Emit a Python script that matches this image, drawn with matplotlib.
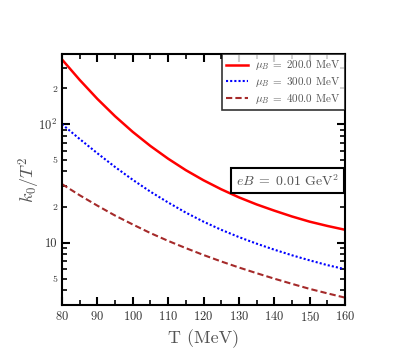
import matplotlib
matplotlib.use("Agg")
import matplotlib.pyplot as plt
from matplotlib.ticker import LogLocator, FixedLocator, FixedFormatter, MultipleLocator, FuncFormatter

plt.rcParams['font.family'] = 'serif'
plt.rcParams['font.serif'] = ['cmr10', 'DejaVu Serif']
plt.rcParams['mathtext.fontset'] = 'cm'
plt.rcParams['axes.formatter.use_mathtext'] = True

T = [80, 85, 90, 95, 100, 105, 110, 115, 120, 125, 130, 135, 140, 145, 150, 155, 160]
k_mu200 = [350.8, 236.0, 163.3, 116.7, 86.1, 65.5, 51.2, 41.0, 33.7, 28.3, 24.2, 21.1, 18.7, 16.7, 15.1, 13.9, 12.9]
k_mu300 = [100, 75.0, 56.9, 43.6, 34.0, 27.0, 21.9, 18.0, 15.1, 12.9, 11.2, 9.86, 8.77, 7.87, 7.13, 6.50, 6.01]
k_mu400 = [31.3, 25.2, 20.6, 17.0, 14.3, 12.1, 10.4, 9.04, 7.91, 6.98, 6.21, 5.56, 5.00, 4.52, 4.10, 3.76, 3.46]
labels = [r'$\mu_B\;=\;200.0$ MeV', r'$\mu_B\;=\;300.0$ MeV', r'$\mu_B\;=\;400.0$ MeV']

gray = '#555555'
fig = plt.figure(figsize=(4.07, 3.62), dpi=100)
ax = fig.add_axes([0.1523, 0.1575, 0.6954, 0.6933])

ax.plot(T, k_mu200, color='red', lw=1.8, ls='-', label=labels[0])
ax.plot(T, k_mu300, color='blue', lw=1.5, ls=(0, (1, 1)), label=labels[1])
ax.plot(T, k_mu400, color='#a52a2a', lw=1.5, ls=(0, (3, 1.5)), label=labels[2])

ax.set_yscale('log')
ax.set_xlim(80, 160)
ax.set_ylim(3.0, 390)

ax.xaxis.set_major_locator(MultipleLocator(10))
ax.xaxis.set_minor_locator(MultipleLocator(5))
ax.yaxis.set_major_locator(FixedLocator([10, 100]))
ax.yaxis.set_major_formatter(FixedFormatter(['10', r'$10^2$']))
ax.yaxis.set_minor_locator(LogLocator(base=10, subs=range(2, 10)))
minor_labels = {5: '5', 20: '2', 50: '5', 200: '2'}
def minfmt(v, pos):
    for k, s in minor_labels.items():
        if abs(v - k) < 1e-6 * k:
            return s
    return ''
ax.yaxis.set_minor_formatter(FuncFormatter(minfmt))

ax.tick_params(which='both', direction='in', top=True, right=True, colors='black', labelcolor='#333333')
ax.tick_params(which='major', length=6, width=1.5, labelsize=9)
ax.tick_params(which='minor', length=3.5, width=1.2, labelsize=7)
for sp in ax.spines.values():
    sp.set_linewidth(1.5)

ax.set_xlabel('T (MeV)', color=gray, fontsize=13)
ax.set_ylabel(r'$k_0/T^2$', color=gray, fontsize=13, labelpad=-3)

leg = ax.legend(loc='upper right', fontsize=8, frameon=True, fancybox=False,
                edgecolor='black', borderaxespad=0, handlelength=2.0, handletextpad=0.6,
                labelspacing=0.25, borderpad=0.4)
leg.get_frame().set_linewidth(1.2)
for t in leg.get_texts():
    t.set_color(gray)

ax.text(0.978, 0.495, r'$eB\;=\;0.01$ GeV$^2$', transform=ax.transAxes, ha='right', va='center',
        fontsize=10, color=gray,
        bbox=dict(boxstyle='square,pad=0.35', fc='white', ec='black', lw=1.5))

fig.savefig('out.png', dpi=100)
